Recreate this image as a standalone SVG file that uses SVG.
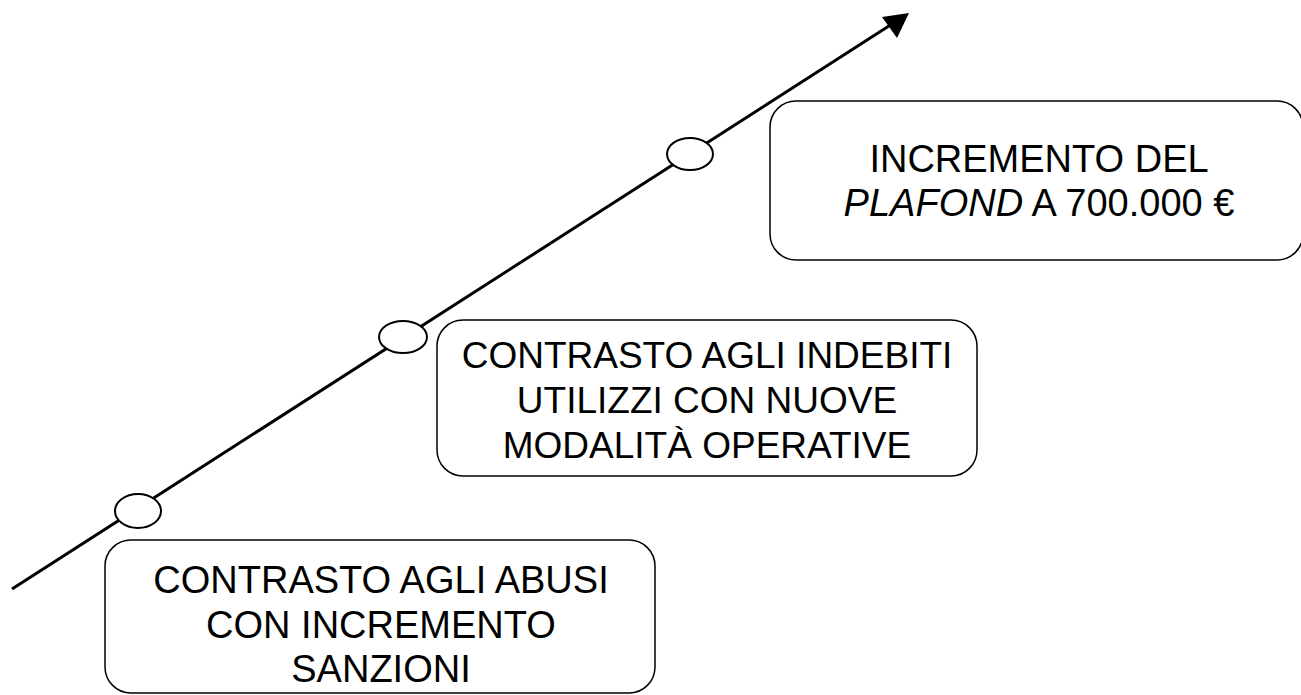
<svg xmlns="http://www.w3.org/2000/svg" width="1301" height="695" viewBox="0 0 1301 695">
<style>
.box{fill:#fff;stroke:#000;stroke-width:1.5}
.dot{fill:#fff;stroke:#000;stroke-width:2}
.t{font-family:"Liberation Sans",Arial,sans-serif;font-size:37px;fill:#000;text-anchor:middle}
.big{font-size:38px}
</style>
<rect width="1301" height="695" fill="#fff"/>
<g id="connectors">
<line x1="12" y1="589" x2="892" y2="24" stroke="#000" stroke-width="3"/>
<polygon points="909,13 882,17 897,38" fill="#000"/>
</g>
<g id="dot3"><ellipse class="dot" cx="690" cy="154" rx="23" ry="16"/></g>
<g id="dot2"><ellipse class="dot" cx="403" cy="337" rx="24" ry="16"/></g>
<g id="dot1"><ellipse class="dot" cx="138" cy="511" rx="23" ry="17"/></g>
<g id="box3">
<rect class="box" x="770" y="101" width="533" height="159" rx="26"/>
<text class="t big" x="1039" y="172">INCREMENTO DEL</text>
<text class="t big" x="1039" y="216"><tspan font-style="italic">PLAFOND</tspan> A 700.000 €</text>
</g>
<g id="box2">
<rect class="box" x="437" y="320" width="540" height="156" rx="26"/>
<text class="t" x="707" y="368">CONTRASTO AGLI INDEBITI</text>
<text class="t" x="707" y="413">UTILIZZI CON NUOVE</text>
<text class="t" x="707" y="458">MODALITÀ OPERATIVE</text>
</g>
<g id="box1">
<rect class="box" x="105" y="540" width="550" height="153" rx="26"/>
<text class="t big" x="381" y="593">CONTRASTO AGLI ABUSI</text>
<text class="t big" x="381" y="638">CON INCREMENTO</text>
<text class="t big" x="381" y="682">SANZIONI</text>
</g>
</svg>
